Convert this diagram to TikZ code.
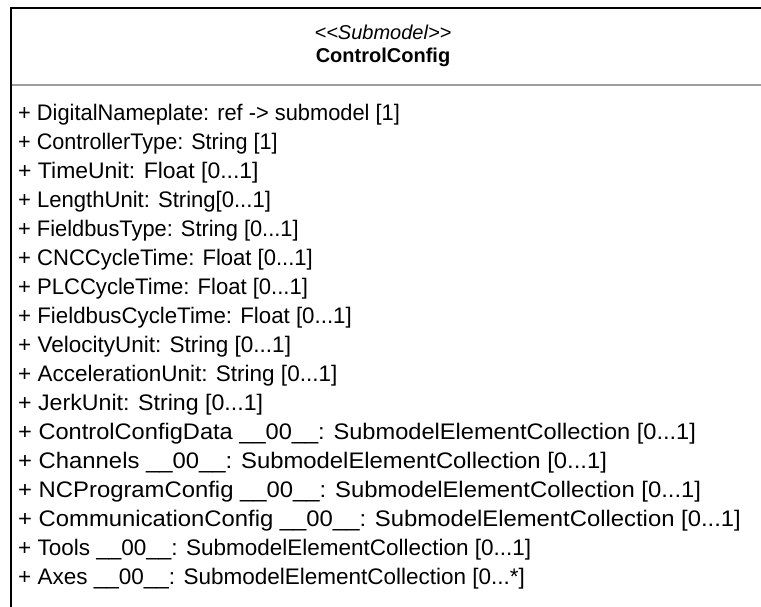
\documentclass[tikz,border=0pt]{standalone}
\usepackage{fontspec}
\usepackage{graphicx}
\setmainfont{Liberation Sans}
\begin{document}
\begin{tikzpicture}[x=1pt,y=-1pt,
  frame/.style={line width=2pt, black},
  divider/.style={line width=2.5pt, color=black!38},
  attr/.style={anchor=base west, inner sep=0pt, font=\fontsize{22.5}{27}\selectfont},
  title/.style={anchor=center, inner sep=0pt, font=\fontsize{20}{24}\selectfont}]
\useasboundingbox (0,0) rectangle (761,606);
\fill[white] (0,0) rectangle (761,606);

% class frame: top edge, left edge, compartment divider
\coordinate (tl) at (11,8);
\coordinate (tr) at (780,8);
\coordinate (bl) at (11,620);
\coordinate (dl) at (12,85);
\coordinate (dr) at (780,85);
\draw[frame] (tr) -- (tl) -- (bl);
\draw[divider] (dl) -- (dr);

% header
\node[title] (stereo) at (383,32) {\itshape <{}<Submodel>{}>};
\node[title] (name) at (383,57) {\bfseries ControlConfig};

% attributes (index / horizontal scale / text)
\foreach \i/\s/\t in {
  1/0.97/{+ DigitalNameplate: ref -> submodel [1]},
  2/0.96/{+ ControllerType: String [1]},
  3/1.02/{+ TimeUnit: Float [0...1]},
  4/0.98/{+ LengthUnit: String[0...1]},
  5/0.97/{+ FieldbusType: String [0...1]},
  6/0.98/{+ CNCCycleTime: Float [0...1]},
  7/0.98/{+ PLCCycleTime: Float [0...1]},
  8/0.99/{+ FieldbusCycleTime: Float [0...1]},
  9/1.0/{+ VelocityUnit: String [0...1]},
  10/1.0/{+ AccelerationUnit: String [0...1]},
  11/1.03/{+ JerkUnit: String [0...1]},
  12/1.05/{+ ControlConfigData \_\_00\_\_: SubmodelElementCollection [0...1]},
  13/1.06/{+ Channels \_\_00\_\_: SubmodelElementCollection [0...1]},
  14/1.06/{+ NCProgramConfig \_\_00\_\_: SubmodelElementCollection [0...1]},
  15/1.06/{+ CommunicationConfig \_\_00\_\_: SubmodelElementCollection [0...1]},
  16/1.0/{+ Tools \_\_00\_\_: SubmodelElementCollection [0...1]},
  17/1.0/{+ Axes \_\_00\_\_: SubmodelElementCollection [0...*]}}
  \node[attr] (attr\i) at (18,{120+29*(\i-1)}) {\scalebox{\s}[1]{\t}};
\end{tikzpicture}
\end{document}
